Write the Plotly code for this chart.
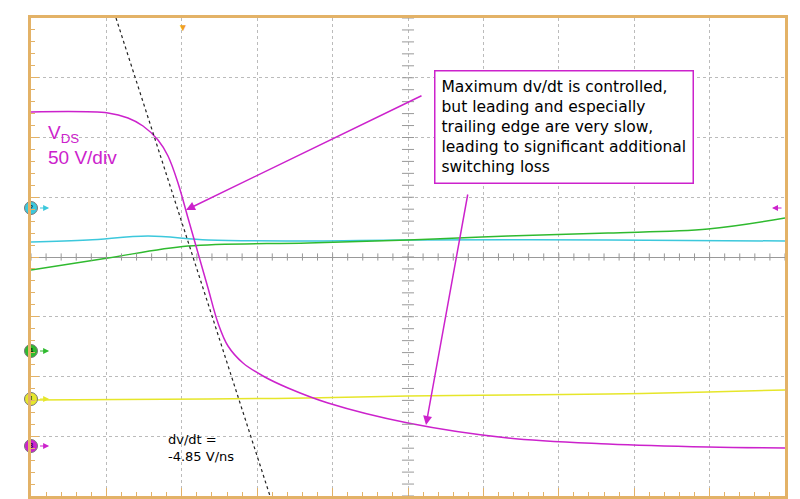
import plotly.graph_objects as go

# pixel-read samples converted to divisions (x: 0..10, y: -4..4)
def px2x(p): return (p - 23) / 75.4
def px2y(p): return (249 - p) / 59.75

vds_px = [23, 100, 120, 135, 150, 160, 170, 180, 190, 200, 210, 220, 235, 255, 280, 320, 400, 500, 600, 700, 777]
vds_py = [104, 105, 110, 118, 132, 148, 175, 210, 245, 280, 315, 338, 355, 368, 380, 395, 415, 430, 436, 439, 440]
cyan_px = [23, 80, 140, 200, 300, 400, 600, 777]
cyan_py = [234, 232, 228, 232, 233, 232, 232, 233]
green_px = [23, 100, 180, 300, 400, 500, 600, 700, 777]
green_py = [262, 250, 238, 235, 232, 228, 225, 221, 210]
yel_px = [23, 200, 300, 400, 500, 600, 700, 777]
yel_py = [392, 391, 390, 388, 387, 386, 384, 382]
slope_px = [108, 262]
slope_py = [10, 488]

FR = "#e3b267"
fig = go.Figure()
def tr(xs, ys, color, width=1.5, dash=None, shape="spline"):
    fig.add_trace(go.Scatter(x=[px2x(v) for v in xs], y=[px2y(v) for v in ys], mode="lines",
                             line=dict(color=color, width=width, dash=dash, shape=shape), hoverinfo="skip"))
tr(cyan_px, cyan_py, "#3cc8dc")
tr(green_px, green_py, "#2fba2f")
tr(yel_px, yel_py, "#e6e62a")
tr(vds_px, vds_py, "#cc22cc")
tr(slope_px, slope_py, "#222222", 1.2, "dot", "linear")

ax = dict(showgrid=True, gridcolor="#bbbbbb", griddash="dot", gridwidth=1, zeroline=True,
          zerolinecolor="#999999", zerolinewidth=1, showline=True, mirror=True, linecolor=FR,
          linewidth=3, ticks="inside", ticklen=8, tickcolor=FR, dtick=1, showticklabels=False,
          minor=dict(dtick=0.2, ticks="inside", ticklen=4, tickcolor=FR, showgrid=False))
fig.update_layout(width=800, height=499, margin=dict(l=23, r=23, t=10, b=11, autoexpand=False),
                  paper_bgcolor="white", plot_bgcolor="white", showlegend=False,
                  xaxis=dict(range=[0, 10], **ax), yaxis=dict(range=[-4, 4], **ax))

shapes = []
for i in range(51):
    x = i * 0.2
    shapes.append(dict(type="line", xref="x", yref="y", x0=x, x1=x, y0=-0.06, y1=0.06, line=dict(color="#999", width=1)))
for i in range(41):
    y = -4 + i * 0.2
    shapes.append(dict(type="line", xref="x", yref="y", x0=4.92, x1=5.08, y0=y, y1=y, line=dict(color="#999", width=1)))
fig.update_layout(shapes=shapes)

fig.add_annotation(x=px2x(38), y=px2y(112), text="V<sub>DS</sub><br>50 V/div", showarrow=False,
                   xanchor="left", yanchor="top", align="left",
                   font=dict(family="Liberation Sans", size=19, color="#cc22cc"))
fig.add_annotation(x=px2x(158), y=px2y(422), text="dv/dt =<br>-4.85 V/ns", showarrow=False,
                   xanchor="left", yanchor="top", align="left",
                   font=dict(family="DejaVu Sans", size=13, color="black"))
fig.add_annotation(x=px2x(426), y=px2y(62), text="Maximum dv/dt is controlled,<br>but leading and especially<br>trailing edge are very slow,<br>leading to significant additional<br>switching loss",
                   showarrow=False, xanchor="left", yanchor="top", align="left",
                   bordercolor="#cc22cc", borderwidth=1.5, bgcolor="white", borderpad=6,
                   font=dict(family="DejaVu Sans", size=15.5, color="black"))
for (x0, y0, x1, y1) in [(415, 87, 178, 202), (460, 185, 418, 417)]:
    fig.add_annotation(x=px2x(x1), y=px2y(y1), ax=px2x(x0), ay=px2y(y0), xref="x", yref="y",
                       axref="x", ayref="y", text="", showarrow=True, arrowhead=2, arrowsize=1.2,
                       arrowwidth=1.5, arrowcolor="#cc22cc")

# channel markers
chan_labels = ["2", "4", "1", "3"]
chan_py = [200, 343, 391, 438]
chan_colors = ["#3cc8dc", "#2fba2f", "#e6e62a", "#cc22cc"]
fig.add_trace(go.Scatter(x=[0.0] * 4, y=[px2y(v) for v in chan_py], mode="markers+text",
                         text=chan_labels, textfont=dict(size=8, color="black"),
                         marker=dict(size=13, color=chan_colors, line=dict(color="#777", width=1)),
                         cliponaxis=False, hoverinfo="skip"))
for py, col in zip(chan_py, chan_colors):
    fig.add_annotation(x=0.24, y=px2y(py), ax=0.1, ay=px2y(py), xref="x", yref="y", axref="x", ayref="y",
                       text="", showarrow=True, arrowhead=2, arrowwidth=1.2, arrowcolor=col)
fig.add_annotation(x=px2x(764), y=px2y(200), ax=px2x(775), ay=px2y(200), xref="x", yref="y", axref="x", ayref="y",
                   text="", showarrow=True, arrowhead=2, arrowwidth=1.2, arrowcolor="#cc22cc")
fig.add_annotation(x=px2x(175), y=4, text="▼", showarrow=False, yanchor="top",
                   font=dict(size=10, color="#f0a020"))

fig.write_html("out.html")
